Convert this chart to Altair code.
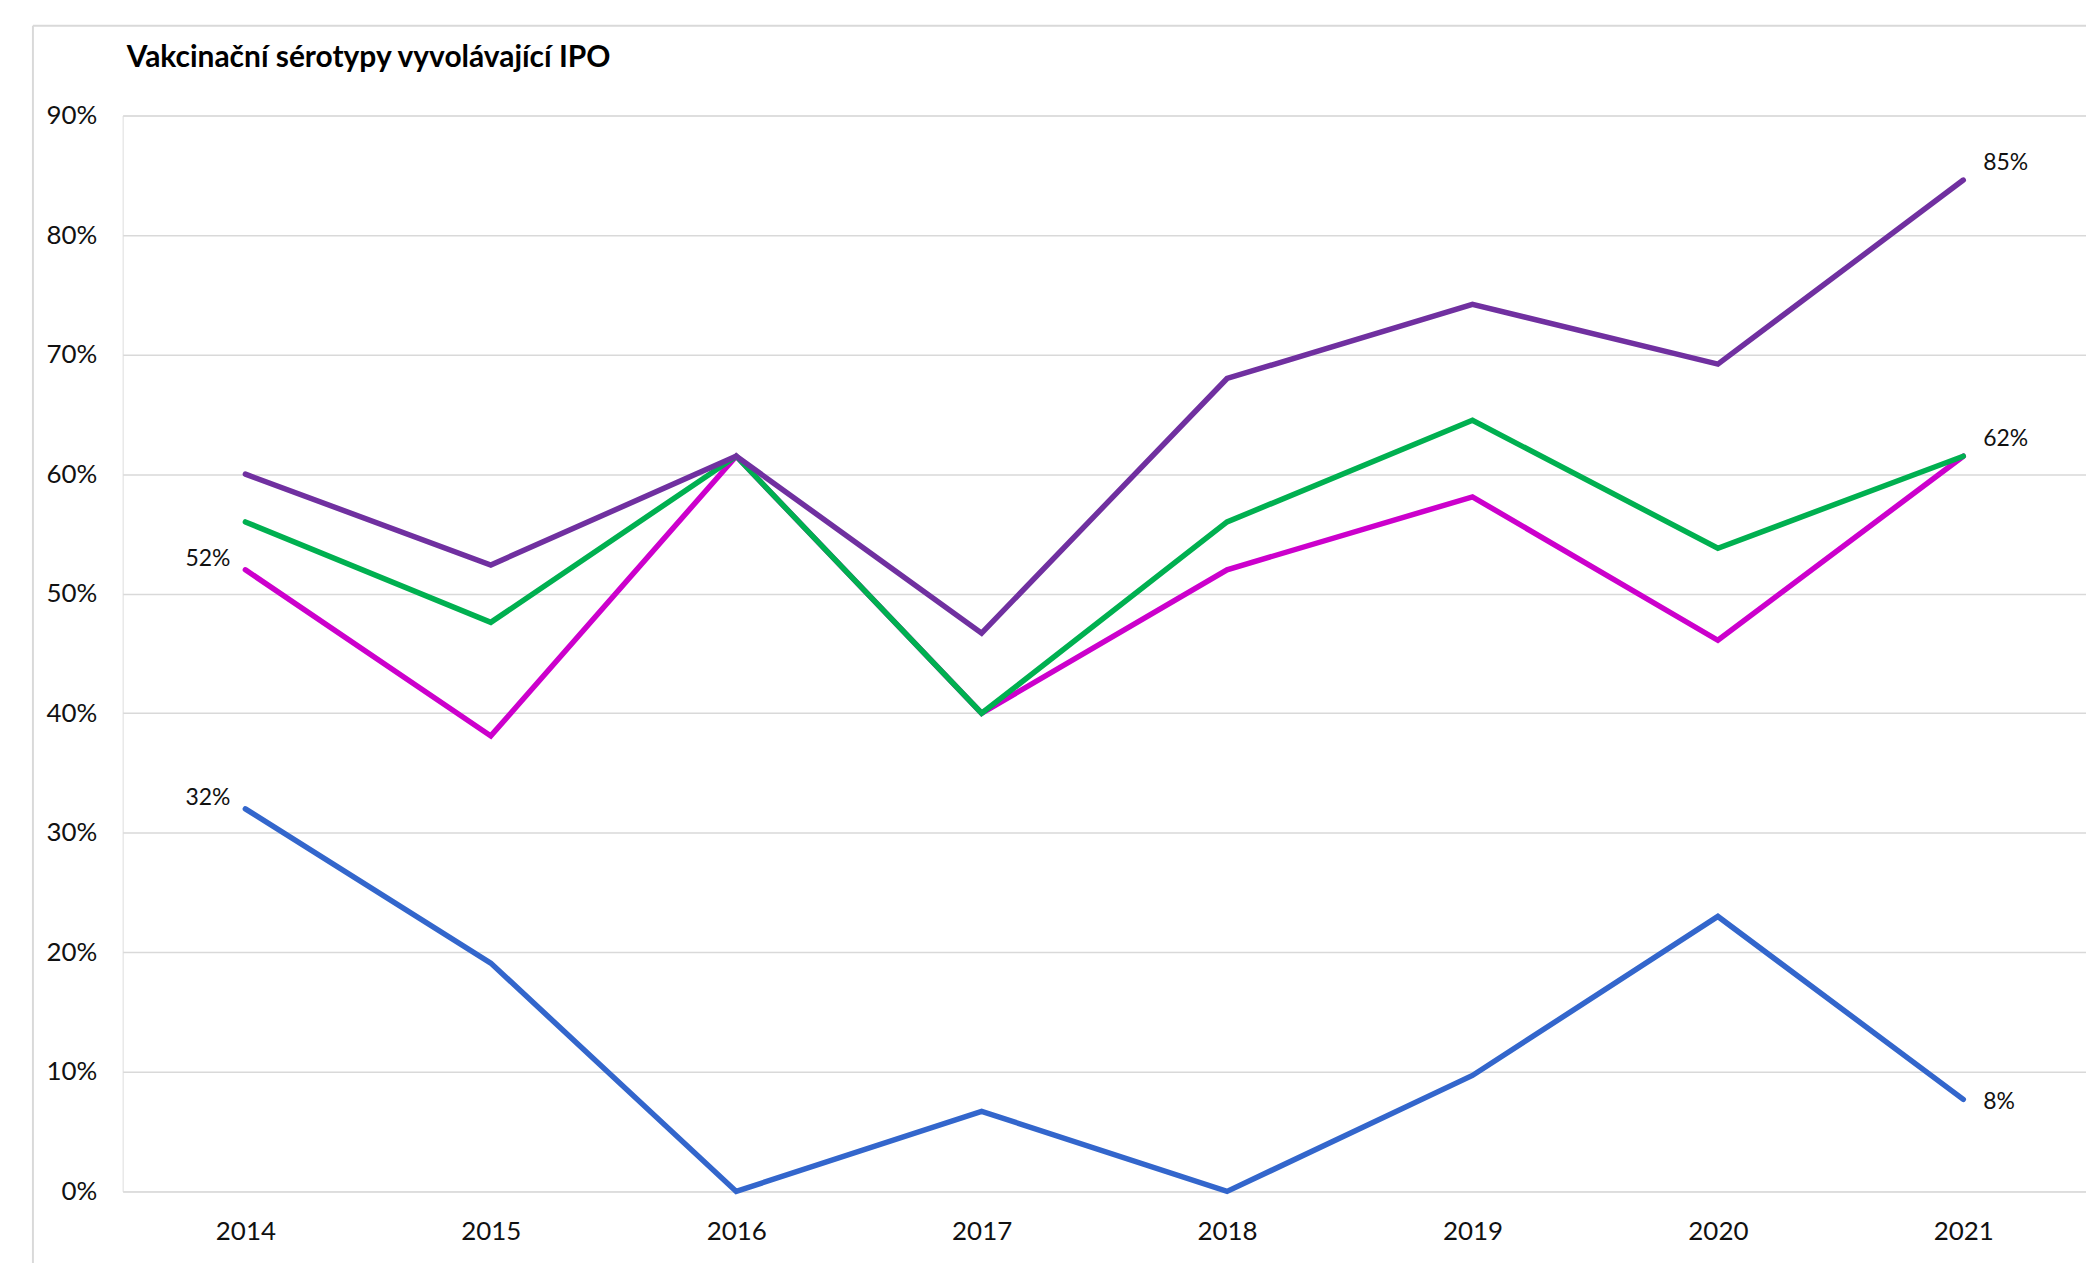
import altair as alt
import pandas as pd

years = [2014, 2015, 2016, 2017, 2018, 2019, 2020, 2021]
series_names = ["modrá", "purpurová", "zelená", "fialová"]
blue = [0.320, 0.191, 0.000, 0.067, 0.000, 0.097, 0.230, 0.077]
magenta = [0.520, 0.381, 0.615, 0.400, 0.520, 0.581, 0.461, 0.615]
green = [0.560, 0.476, 0.615, 0.400, 0.560, 0.645, 0.538, 0.615]
purple = [0.600, 0.524, 0.615, 0.467, 0.680, 0.742, 0.692, 0.846]
colors = ["#3366CC", "#CC00CC", "#00B050", "#7030A0"]
y_ticks = [0, 0.1, 0.2, 0.3, 0.4, 0.5, 0.6, 0.7, 0.8, 0.9]
title_text = "Vakcinační sérotypy vyvolávající IPO"

all_series = [blue, magenta, green, purple]
rows = []
for si, (name, vals) in enumerate(zip(series_names, all_series)):
    for y, v in zip(years, vals):
        rows.append({"rok": y, "hodnota": v, "serie": name, "poradi": si})
df = pd.DataFrame(rows)

FONT = "Lato"

x_enc = alt.X(
    "rok:Q",
    scale=alt.Scale(domain=[2013.5, 2021.5], nice=False, zero=False),
    axis=alt.Axis(
        values=years, format="d", title=None, grid=False, domain=False,
        ticks=False, labelFont=FONT, labelFontSize=26, labelColor="#111111",
        labelPadding=27,
    ),
)
y_enc = alt.Y(
    "hodnota:Q",
    scale=alt.Scale(domain=[0, 0.9], nice=False),
    axis=alt.Axis(
        values=y_ticks, format=".0%", title=None, domain=False, ticks=False,
        labelFont=FONT, labelFontSize=26, labelColor="#111111",
        labelPadding=26, gridColor="#D9D9D9", gridWidth=1.5,
    ),
)

base = alt.Chart(df)

lines = [
    base.transform_filter(alt.datum.serie == name)
    .mark_line(color=c, strokeWidth=5.5, strokeCap="round", strokeJoin="miter")
    .encode(x=x_enc, y=y_enc, order="rok:Q")
    for name, c in zip(series_names, colors)
]

first_year = years[0]
last_year = years[-1]

lab_left = base.transform_filter(
    (alt.datum.rok == first_year) & ((alt.datum.serie == "modrá") | (alt.datum.serie == "purpurová"))
).mark_text(align="right", baseline="middle", dx=-15, dy=-11, font=FONT, fontSize=23, color="#111111").encode(
    x="rok:Q", y="hodnota:Q", text=alt.Text("hodnota:Q", format=".0%")
)
lab_right_up = base.transform_filter(
    (alt.datum.rok == last_year) & ((alt.datum.serie == "fialová") | (alt.datum.serie == "zelená"))
).mark_text(align="left", baseline="middle", dx=20, dy=-17, font=FONT, fontSize=23, color="#111111").encode(
    x="rok:Q", y="hodnota:Q", text=alt.Text("hodnota:Q", format=".0%")
)
lab_right = base.transform_filter(
    (alt.datum.rok == last_year) & (alt.datum.serie == "modrá")
).mark_text(align="left", baseline="middle", dx=20, dy=3, font=FONT, fontSize=23, color="#111111").encode(
    x="rok:Q", y="hodnota:Q", text=alt.Text("hodnota:Q", format=".0%")
)

one = pd.DataFrame({"a": [0]})
frame_left = alt.Chart(one).mark_rule(color="#D9D9D9", strokeWidth=2, clip=False).encode(
    x=alt.value(-90), y=alt.value(-90), y2=alt.value(1200)
)
frame_top = alt.Chart(one).mark_rule(color="#D9D9D9", strokeWidth=2, clip=False).encode(
    y=alt.value(-90), x=alt.value(-90), x2=alt.value(1972)
)
title_mark = alt.Chart(one).mark_text(
    text=title_text, align="left", baseline="middle", font=FONT, fontSize=30,
    fontWeight="bold", color="#000000", clip=False,
).encode(x=alt.value(4), y=alt.value(-58))

chart = alt.layer(frame_left, frame_top, *lines, lab_left, lab_right_up, lab_right, title_mark).properties(
    width=1969,
    height=1079,
    autosize=alt.AutoSizeParams(type="none"),
    padding={"left": 115, "top": 106, "right": 0, "bottom": 70},
).configure_view(stroke=None).configure(background="white")

chart.save("out.html", embed_options={"renderer": "svg", "actions": False})
